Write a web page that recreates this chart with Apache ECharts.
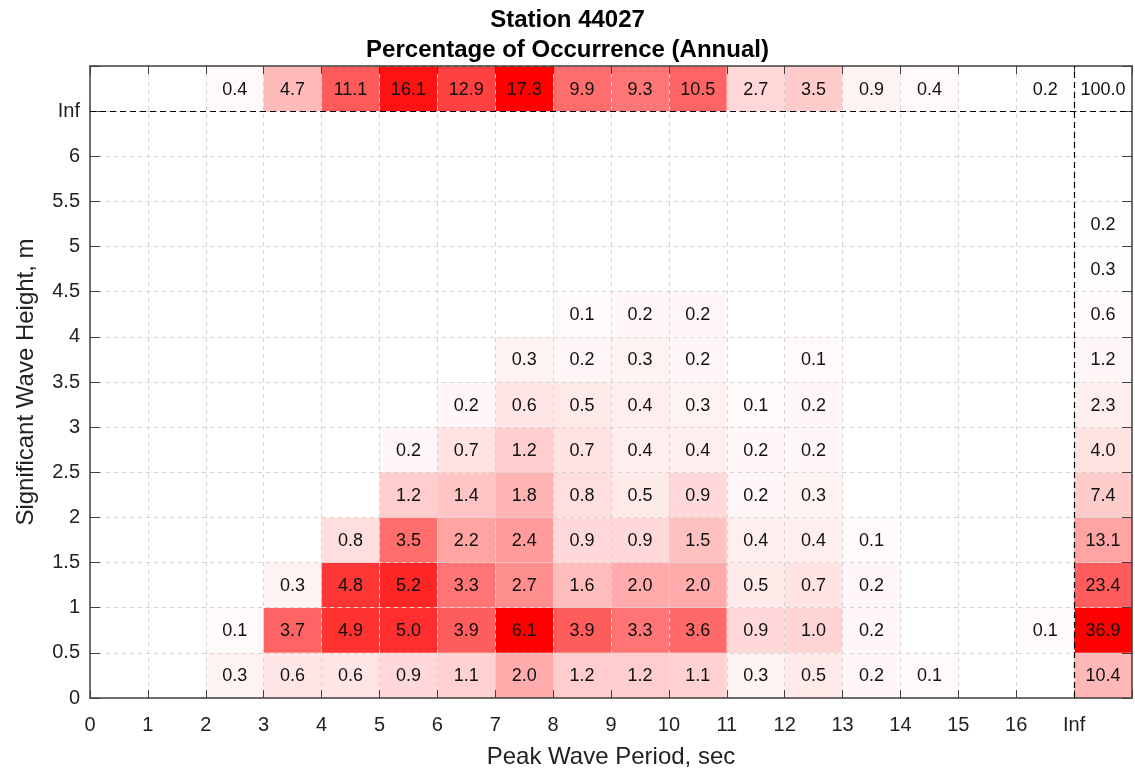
<!DOCTYPE html>
<html>
<head>
<meta charset="utf-8">
<title>Station 44027</title>
<script src="https://cdn.jsdelivr.net/npm/echarts@6/dist/echarts.min.js"></script>
<style>
  html, body { margin: 0; padding: 0; background: #fff; }
  #main { width: 1135px; height: 774px; }
</style>
</head>
<body>
<div id="main"></div>
<script>
// tick labels (on bin edges)
var periodTicks = ['0','1','2','3','4','5','6','7','8','9','10','11','12','13','14','15','16','Inf',''];
var heightTicks = ['0','0.5','1','1.5','2','2.5','3','3.5','4','4.5','5','5.5','6','Inf',''];

// percentage of occurrence, one row per height bin (0-0.5 ... 6-Inf), 17 period bins (0-1 ... 16-Inf)
var h00 = [null,null,0.3,0.6,0.6,0.9,1.1,2.0,1.2,1.2,1.1,0.3,0.5,0.2,0.1,null,null];
var h05 = [null,null,0.1,3.7,4.9,5.0,3.9,6.1,3.9,3.3,3.6,0.9,1.0,0.2,null,null,0.1];
var h10 = [null,null,null,0.3,4.8,5.2,3.3,2.7,1.6,2.0,2.0,0.5,0.7,0.2,null,null,null];
var h15 = [null,null,null,null,0.8,3.5,2.2,2.4,0.9,0.9,1.5,0.4,0.4,0.1,null,null,null];
var h20 = [null,null,null,null,null,1.2,1.4,1.8,0.8,0.5,0.9,0.2,0.3,null,null,null,null];
var h25 = [null,null,null,null,null,0.2,0.7,1.2,0.7,0.4,0.4,0.2,0.2,null,null,null,null];
var h30 = [null,null,null,null,null,null,0.2,0.6,0.5,0.4,0.3,0.1,0.2,null,null,null,null];
var h35 = [null,null,null,null,null,null,null,0.3,0.2,0.3,0.2,null,0.1,null,null,null,null];
var h40 = [null,null,null,null,null,null,null,null,0.1,0.2,0.2,null,null,null,null,null,null];
var h45 = [];
var h50 = [];
var h55 = [];
var h60 = [];
var rows = [h00,h05,h10,h15,h20,h25,h30,h35,h40,h45,h50,h55,h60];

// totals
var heightTotals = [10.4,36.9,23.4,13.1,7.4,4.0,2.3,1.2,0.6,0.3,0.2,null,null];
var periodTotals = [null,null,0.4,4.7,11.1,16.1,12.9,17.3,9.9,9.3,10.5,2.7,3.5,0.9,0.4,null,0.2];
var grandTotal = 100.0;

var nP = periodTotals.length;   // 17 period bins, column 17 = totals
var nH = rows.length;           // 13 height bins, row 13 = totals

// build cells: [xBin, yBin, value, group]
var cells = [];
rows.forEach(function (r, j) {
  r.forEach(function (v, i) {
    if (v != null) cells.push([i, j * 0.5, v, 'body']);
  });
});
heightTotals.forEach(function (v, j) {
  if (v != null) cells.push([nP, j * 0.5, v, 'hTot']);
});
periodTotals.forEach(function (v, i) {
  if (v != null) cells.push([i, nH * 0.5, v, 'pTot']);
});
cells.push([nP, nH * 0.5, grandTotal, 'all']);

function maxOf(a) {
  var m = 0;
  a.forEach(function (v) { if (v != null && v > m) m = v; });
  return m;
}
var bodyMax = Math.max.apply(null, rows.map(maxOf));
var maxes = { body: bodyMax, hTot: maxOf(heightTotals), pTot: maxOf(periodTotals) };

function cellColor(v, g) {
  if (g === 'all') return '#ffffff';
  var c = Math.round(255 * (1 - v / maxes[g]));
  return 'rgb(255,' + c + ',' + c + ')';
}

var font = '"Liberation Sans", Arial, sans-serif';
var axisColor = '#404040';

var myChart = echarts.init(document.getElementById('main'));
myChart.setOption({
  animation: false,
  backgroundColor: '#fff',
  title: {
    text: 'Station 44027\nPercentage of Occurrence (Annual)',
    left: 'center',
    top: 0,
    textStyle: { fontFamily: font, fontWeight: 'bold', fontSize: 24, lineHeight: 30, color: '#000' }
  },
  grid: { left: 90, right: 1, top: 66, bottom: 74 },
  xAxis: [{
    type: 'value', min: 0, max: nP + 1, interval: 1, z: 3,
    name: 'Peak Wave Period, sec', nameLocation: 'middle', nameGap: 47,
    nameTextStyle: { fontFamily: font, fontSize: 24, color: '#222' },
    axisLine: { lineStyle: { color: axisColor, width: 1.5 } },
    axisTick: { inside: true, length: 8, lineStyle: { color: axisColor } },
    axisLabel: {
      fontFamily: font, fontSize: 20, color: '#222', margin: 17,
      showMaxLabel: true, showMinLabel: true,
      formatter: function (v) { return periodTicks[Math.round(v)]; }
    },
    splitLine: { show: true, lineStyle: { color: '#d4d4d4', type: [4, 4], width: 1 } }
  }, {
    type: 'value', position: 'top', min: 0, max: nP + 1, interval: 1, z: 3,
    axisLine: { show: true, onZero: false, lineStyle: { color: axisColor, width: 1.5 } },
    axisTick: { show: true, inside: true, length: 8, lineStyle: { color: axisColor } },
    axisLabel: { show: false },
    splitLine: { show: false }
  }],
  yAxis: [{
    type: 'value', min: 0, max: (nH + 1) * 0.5, interval: 0.5, z: 3,
    name: 'Significant Wave Height, m', nameLocation: 'middle', nameGap: 52,
    nameTextStyle: { fontFamily: font, fontSize: 24, color: '#222' },
    axisLine: { show: true, lineStyle: { color: axisColor, width: 1.5 } },
    axisTick: { show: true, inside: true, length: 10, lineStyle: { color: axisColor } },
    axisLabel: {
      fontFamily: font, fontSize: 20, color: '#222', margin: 10,
      showMaxLabel: true, showMinLabel: true,
      formatter: function (v) { return heightTicks[Math.round(v * 2)]; }
    },
    splitLine: { show: true, lineStyle: { color: '#d4d4d4', type: [4, 4], width: 1 } }
  }, {
    type: 'value', position: 'right', min: 0, max: (nH + 1) * 0.5, interval: 0.5, z: 3,
    axisLine: { show: true, onZero: false, lineStyle: { color: axisColor, width: 1.5 } },
    axisTick: { show: true, inside: true, length: 10, lineStyle: { color: axisColor } },
    axisLabel: { show: false },
    splitLine: { show: false }
  }],
  series: [{
    type: 'custom',
    z: 2,
    data: cells,
    encode: { x: 0, y: 1 },
    renderItem: function (params, api) {
      var x = api.value(0), y = api.value(1), v = api.value(2);
      var g = cells[params.dataIndex][3];
      var p0 = api.coord([x, y + 0.5]);
      var p1 = api.coord([x + 1, y]);
      return {
        type: 'group',
        children: [{
          type: 'rect',
          shape: { x: p0[0], y: p0[1], width: p1[0] - p0[0], height: p1[1] - p0[1] },
          style: { fill: cellColor(v, g) }
        }, {
          type: 'text',
          z2: 10,
          style: {
            x: (p0[0] + p1[0]) / 2, y: (p0[1] + p1[1]) / 2 + 1,
            text: v.toFixed(1), align: 'center', verticalAlign: 'middle',
            fontFamily: font, fontSize: 18, fill: '#111'
          }
        }]
      };
    }
  }, {
    type: 'line',
    z: 6,
    data: [],
    markLine: {
      silent: true,
      symbol: 'none',
      label: { show: false },
      lineStyle: { color: '#000', type: [6, 4], width: 1.2 },
      data: [
        [{ coord: [0, nH * 0.5] }, { coord: [nP + 1, nH * 0.5] }],
        [{ coord: [nP, 0] }, { coord: [nP, (nH + 1) * 0.5] }]
      ]
    }
  }]
});
</script>
</body>
</html>
